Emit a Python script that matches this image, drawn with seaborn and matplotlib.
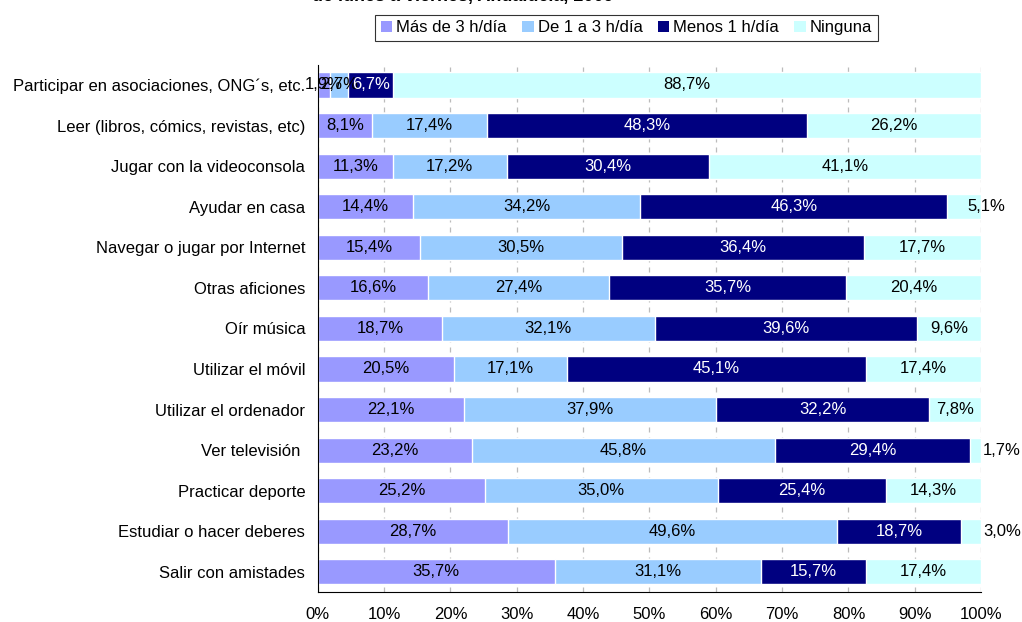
import numpy as np
import pandas as pd
import matplotlib
matplotlib.use("Agg")
import matplotlib.pyplot as plt
from matplotlib.patches import Patch
import seaborn as sns

# ------------------ Datos ------------------
actividades = [
    "Participar en asociaciones, ONG´s, etc.",
    "Leer (libros, cómics, revistas, etc)",
    "Jugar con la videoconsola",
    "Ayudar en casa",
    "Navegar o jugar por Internet",
    "Otras aficiones",
    "Oír música",
    "Utilizar el móvil",
    "Utilizar el ordenador",
    "Ver televisión ",
    "Practicar deporte",
    "Estudiar o hacer deberes",
    "Salir con amistades",
]
series = ["Más de 3 h/día", "De 1 a 3 h/día", "Menos 1 h/día", "Ninguna"]
mas_3h = [1.9, 8.1, 11.3, 14.4, 15.4, 16.6, 18.7, 20.5, 22.1, 23.2, 25.2, 28.7, 35.7]
de_1a3h = [2.7, 17.4, 17.2, 34.2, 30.5, 27.4, 32.1, 17.1, 37.9, 45.8, 35.0, 49.6, 31.1]
menos_1h = [6.7, 48.3, 30.4, 46.3, 36.4, 35.7, 39.6, 45.1, 32.2, 29.4, 25.4, 18.7, 15.7]
ninguna = [88.7, 26.2, 41.1, 5.1, 17.7, 20.4, 9.6, 17.4, 7.8, 1.7, 14.3, 3.0, 17.4]
x_ticks = [0, 10, 20, 30, 40, 50, 60, 70, 80, 90, 100]

colores = ["#9999FF", "#99CCFF", "#000080", "#CCFFFF"]
color_texto = ["black", "black", "white", "black"]
FS = 12

# ------------------ Figura ------------------
sns.set_style("white")
plt.rcParams["font.family"] = ["Liberation Sans", "DejaVu Sans"]
plt.rcParams["text.color"] = "black"
plt.rcParams["xtick.color"] = "black"
plt.rcParams["ytick.color"] = "black"

valores = np.array([mas_3h, de_1a3h, menos_1h, ninguna])
# gráfico 100% apilado: normalizar cada fila
norm = valores / valores.sum(axis=0) * 100
acum = np.cumsum(norm, axis=0)

fig = plt.figure(figsize=(10.22, 6.22), dpi=100)
ax = fig.add_axes([0.311, 0.048, 0.649, 0.848])

for i in range(3, -1, -1):
    df = pd.DataFrame({"actividad": actividades, "valor": acum[i]})
    sns.barplot(data=df, x="valor", y="actividad", orient="h", color=colores[i],
                width=0.62, saturation=1, ax=ax, zorder=2)

# etiquetas de datos
for j in range(len(actividades)):
    for i in range(4):
        inicio = acum[i][j] - norm[i][j]
        xc = inicio + norm[i][j] / 2
        ha = "center"
        if i == 3 and valores[i][j] < 4:
            xc, ha = 100.3, "left"
        elif i == 3 and valores[i][j] < 6:
            xc, ha = 97.9, "left"
        txt = f"{valores[i][j]:.1f}%".replace(".", ",")
        ax.text(xc, j, txt, ha=ha, va="center", fontsize=FS,
                color=color_texto[i], zorder=5, clip_on=False)

ax.set_xlim(0, 100)
ax.set_ylim(len(actividades) - 0.5, -0.5)
ax.set_xticks(x_ticks)
ax.set_xticklabels([f"{t}%" for t in x_ticks], fontsize=FS)
ax.tick_params(axis="y", labelsize=FS, length=0, pad=9)
ax.tick_params(axis="x", direction="inout", length=6, width=0.8, pad=8)
ax.set_yticks(np.arange(-0.5, len(actividades), 1), minor=True)
ax.tick_params(axis="y", which="minor", length=5, width=0.8, direction="out")
ax.set_xlabel("")
ax.set_ylabel("")

ax.grid(axis="x", color="#BBBBBB", linestyle=(0, (4, 4)), linewidth=0.9, zorder=0)
ax.set_axisbelow(True)
for lado in ["top", "right"]:
    ax.spines[lado].set_visible(False)
ax.spines["left"].set_color("black")
ax.spines["bottom"].set_color("black")
ax.spines["left"].set_linewidth(0.8)
ax.spines["bottom"].set_linewidth(0.8)

# título recortado en la parte superior
fig.text(0.453, 1.006, "de lunes a viernes, Andalucía, 2009", ha="center", va="center",
         fontsize=13, fontweight="bold")

handles = [Patch(facecolor=c, edgecolor="none") for c in colores]
leg = fig.legend(handles, series, loc="center", bbox_to_anchor=(0.613, 0.955), ncol=4,
                 frameon=True, fancybox=False, fontsize=FS, handlelength=0.7,
                 handleheight=0.7, handletextpad=0.25, columnspacing=0.9,
                 borderpad=0.35, edgecolor="black")
leg.get_frame().set_linewidth(0.8)

fig.savefig("out.png", dpi=100)
